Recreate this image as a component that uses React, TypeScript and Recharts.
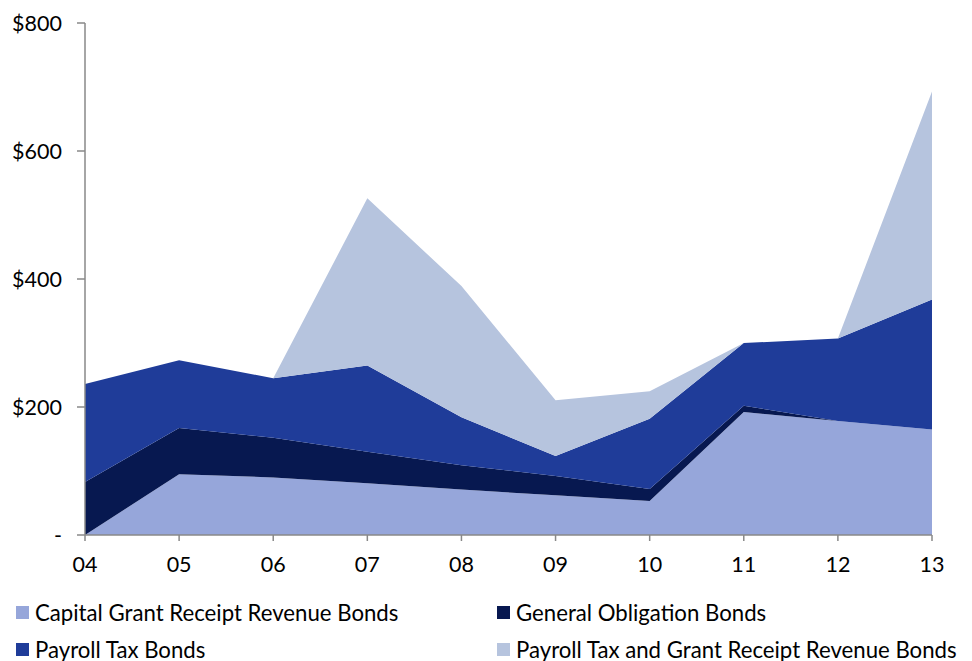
import React from "react";
import { AreaChart, Area, XAxis, YAxis } from "recharts";

const years = ["04", "05", "06", "07", "08", "09", "10", "11", "12", "13"];
const capitalGrant = [0, 95, 90, 81, 71, 62, 53, 192, 178, 165];
const generalObligation = [83, 72, 62, 49, 38, 30, 19, 10, 0, 0];
const payrollTax = [153, 106, 93, 135, 75, 31.5, 109.5, 98, 129, 203];
const payrollTaxGrant = [0, 0, 0, 261, 205, 87, 43, 0, 0, 325];
const yTicks = [0, 200, 400, 600, 800];

const seriesNames = [
  "Capital Grant Receipt Revenue Bonds",
  "General Obligation Bonds",
  "Payroll Tax Bonds",
  "Payroll Tax and Grant Receipt Revenue Bonds",
];
const colors = ["#96A6DA", "#071850", "#1F3C99", "#B6C4DE"];
const keys = ["cap", "go", "pt", "ptg"];

const data = years.map((y, i) => ({
  year: y,
  cap: capitalGrant[i],
  go: generalObligation[i],
  pt: payrollTax[i],
  ptg: payrollTaxGrant[i],
}));

const FONT = "Lato, 'Open Sans', sans-serif";

export default function App() {
  return (
    <div style={{ position: "relative", width: 964, height: 653, fontFamily: FONT }}>
      <AreaChart
        width={964}
        height={570}
        data={data}
        margin={{ top: 15, right: 40, bottom: 0, left: 0 }}
      >
        <XAxis
          dataKey="year"
          height={43}
          tickSize={6}
          tickMargin={16}
          tick={{ fill: "#000", fontSize: 21.5, fontFamily: FONT }}
          axisLine={{ stroke: "#888", strokeWidth: 1.5 }}
          tickLine={{ stroke: "#888", strokeWidth: 1.5 }}
          interval={0}
        />
        <YAxis
          width={77}
          domain={[0, 800]}
          ticks={yTicks}
          tickSize={8}
          tickMargin={15}
          tickFormatter={(v: number) => (v === 0 ? "-" : "$" + v)}
          tick={{ fill: "#000", fontSize: 21.5, fontFamily: FONT }}
          axisLine={{ stroke: "#888", strokeWidth: 1.5 }}
          tickLine={{ stroke: "#888", strokeWidth: 1.5 }}
        />
        {keys.map((k, i) => (
          <Area
            key={k}
            type="linear"
            dataKey={k}
            stackId="1"
            stroke="none"
            fill={colors[i]}
            fillOpacity={1}
            isAnimationActive={false}
          />
        ))}
      </AreaChart>
      {seriesNames.map((name, i) => {
        const col = i % 2;
        const row = Math.floor(i / 2);
        return (
          <div
            key={name}
            style={{
              position: "absolute",
              left: col === 0 ? 8 : 489,
              top: 590 + row * 37,
              height: 28,
              display: "flex",
              alignItems: "center",
              fontSize: 22.2,
              color: "#000",
              whiteSpace: "nowrap",
            }}
          >
            <span
              style={{
                display: "inline-block",
                width: 13,
                height: 13,
                background: colors[i],
                marginRight: 6,
              }}
            />
            {name}
          </div>
        );
      })}
    </div>
  );
}
